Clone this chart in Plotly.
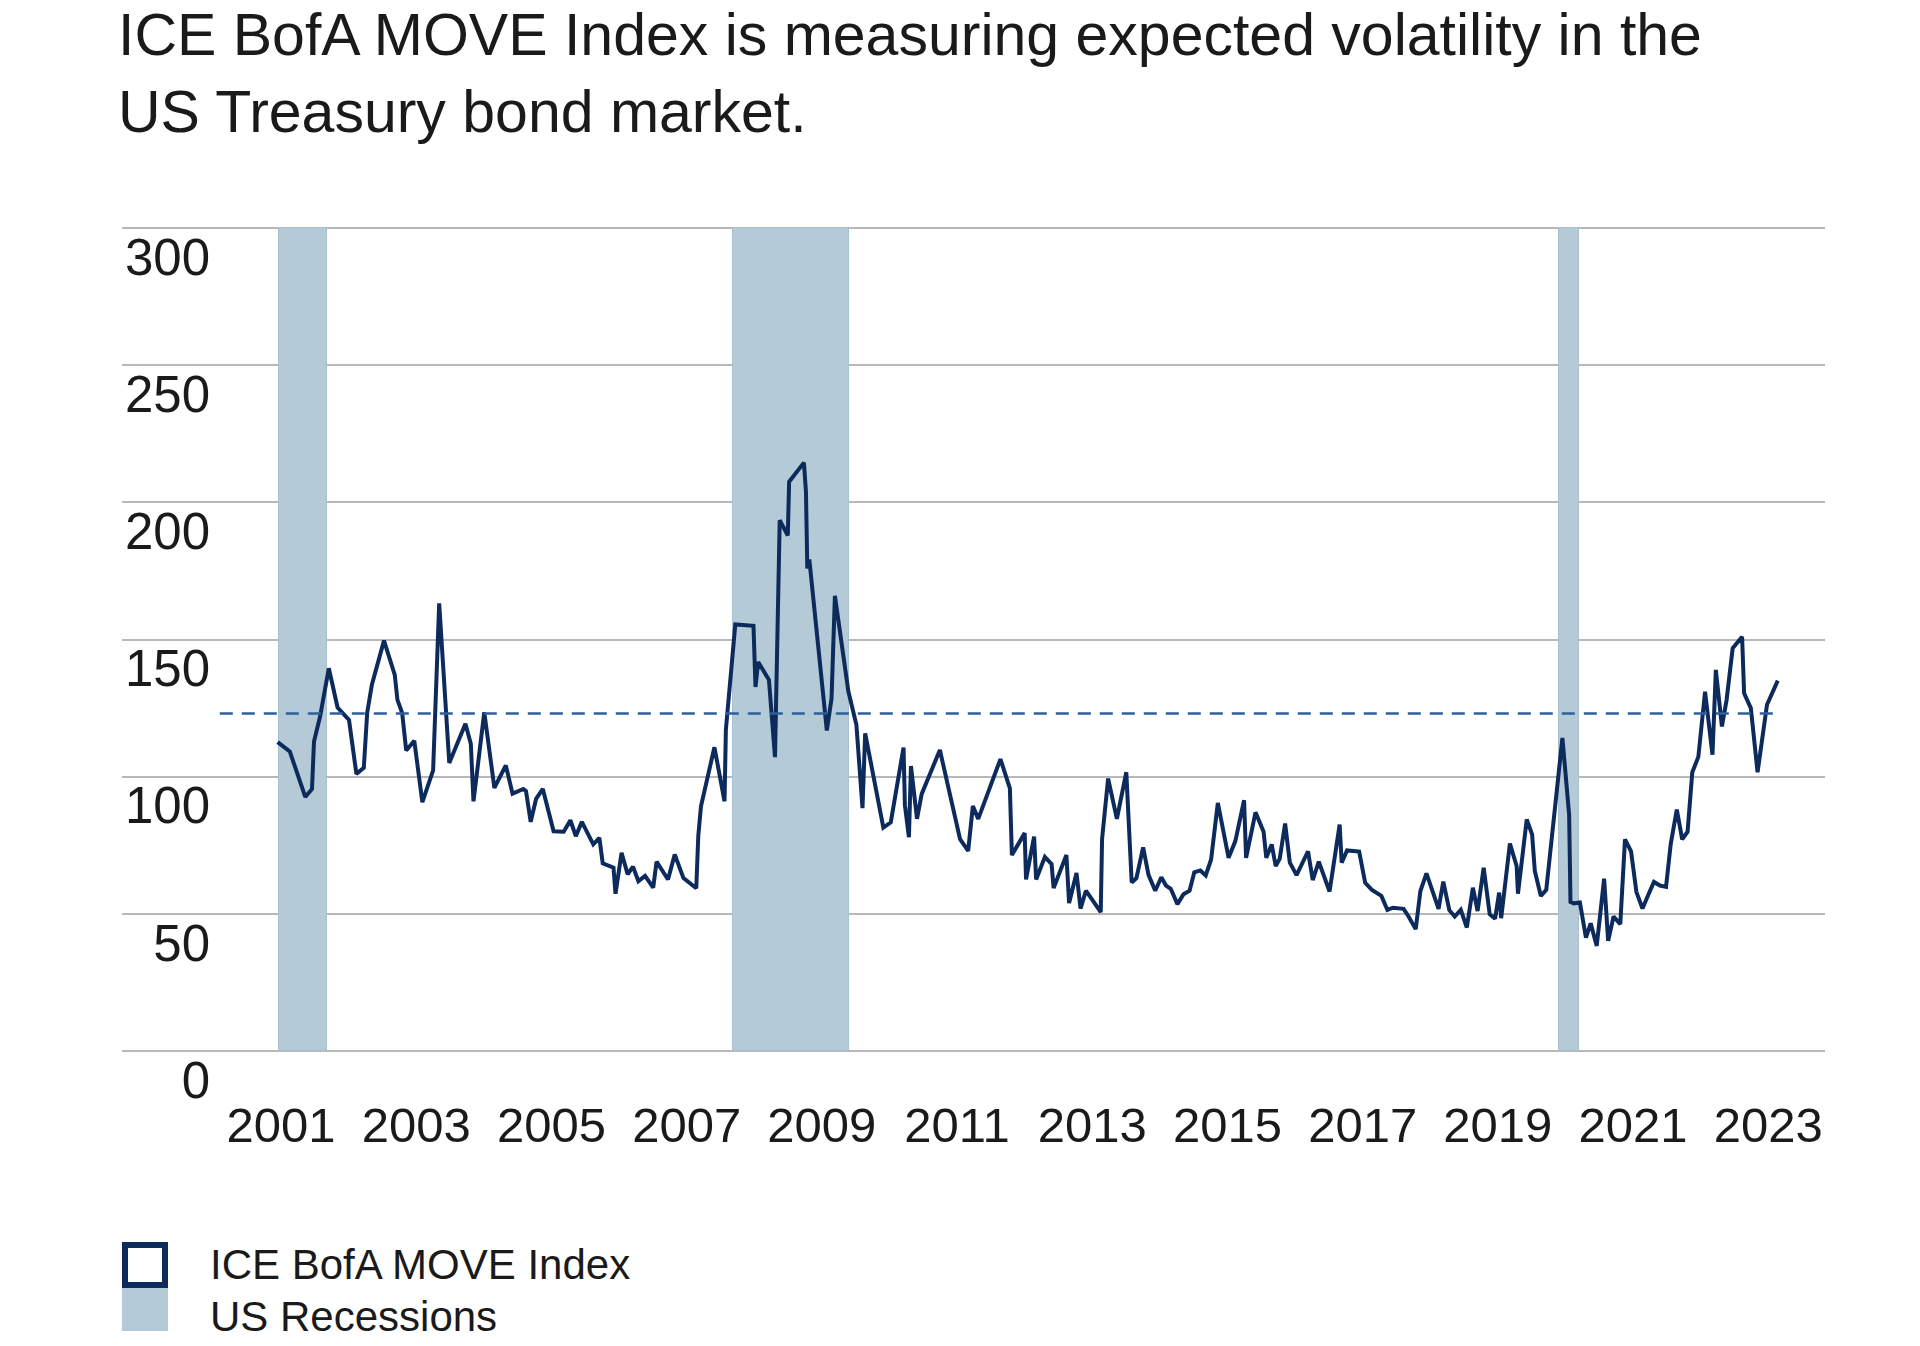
import plotly.graph_objects as go

# ---------------- data ----------------
# decimal-year time stamps of the ICE BofA MOVE Index series
MOVE_DATES = [
    2001.15, 2001.33, 2001.56, 2001.66, 2001.69, 2001.78, 2001.91, 2002.04, 2002.21, 2002.32,
    2002.43, 2002.48, 2002.55, 2002.73, 2002.89, 2002.93, 2003.00, 2003.06, 2003.18, 2003.30,
    2003.46, 2003.55, 2003.70, 2003.94, 2004.02, 2004.06, 2004.22, 2004.37, 2004.54, 2004.64,
    2004.80, 2004.84, 2004.91, 2004.99, 2005.09, 2005.25, 2005.40, 2005.50, 2005.58, 2005.67,
    2005.84, 2005.93, 2005.98, 2006.14, 2006.17, 2006.26, 2006.35, 2006.43, 2006.51, 2006.61,
    2006.73, 2006.78, 2006.95, 2007.05, 2007.18, 2007.37, 2007.40, 2007.44, 2007.64, 2007.79,
    2007.81, 2007.95, 2008.22, 2008.25, 2008.29, 2008.45, 2008.54, 2008.61, 2008.73, 2008.75,
    2008.97, 2009.00, 2009.02, 2009.05, 2009.31, 2009.38, 2009.43, 2009.63, 2009.75, 2009.84,
    2009.88, 2010.15, 2010.26, 2010.45, 2010.47, 2010.53, 2010.56, 2010.65, 2010.72, 2010.99,
    2011.29, 2011.41, 2011.48, 2011.56, 2011.89, 2012.03, 2012.06, 2012.25, 2012.27, 2012.39,
    2012.42, 2012.55, 2012.65, 2012.68, 2012.87, 2012.91, 2013.02, 2013.08, 2013.16, 2013.38,
    2013.40, 2013.49, 2013.62, 2013.76, 2013.84, 2013.91, 2014.01, 2014.09, 2014.19, 2014.28,
    2014.35, 2014.42, 2014.52, 2014.61, 2014.70, 2014.77, 2014.86, 2014.94, 2015.02, 2015.12,
    2015.28, 2015.38, 2015.51, 2015.54, 2015.68, 2015.80, 2015.84, 2015.92, 2015.98, 2016.04,
    2016.12, 2016.19, 2016.29, 2016.46, 2016.53, 2016.62, 2016.78, 2016.93, 2016.96, 2017.04,
    2017.22, 2017.31, 2017.41, 2017.55, 2017.64, 2017.72, 2017.88, 2017.95, 2018.06, 2018.13,
    2018.22, 2018.40, 2018.47, 2018.56, 2018.64, 2018.73, 2018.82, 2018.91, 2018.98, 2019.07,
    2019.16, 2019.24, 2019.30, 2019.33, 2019.46, 2019.56, 2019.58, 2019.71, 2019.79, 2019.83,
    2019.92, 2020.00, 2020.24, 2020.34, 2020.36, 2020.41, 2020.50, 2020.59, 2020.66, 2020.75,
    2020.86, 2020.92, 2021.00, 2021.10, 2021.17, 2021.26, 2021.34, 2021.43, 2021.52, 2021.60,
    2021.69, 2021.78, 2021.85, 2021.94, 2022.02, 2022.10, 2022.17, 2022.26, 2022.36, 2022.47,
    2022.52, 2022.61, 2022.68, 2022.77, 2022.91, 2022.94, 2023.04, 2023.14, 2023.28, 2023.44,
]
MOVE_VALUES = [
    112.6, 109.2, 92.6, 95.5, 112.8, 121.9, 139.5, 125.2, 120.7, 101.0,
    103.2, 123.2, 133.5, 149.6, 137.1, 128.0, 123.2, 109.5, 113.1, 90.7,
    102.3, 163.2, 105.0, 119.3, 112.0, 91.0, 123.5, 95.9, 104.1, 93.8,
    95.5, 94.7, 83.5, 91.9, 95.5, 80.1, 79.9, 84.1, 78.3, 83.5,
    75.3, 77.7, 68.4, 66.8, 57.3, 72.2, 64.4, 67.2, 61.9, 63.8,
    59.5, 69.0, 62.5, 71.6, 63.0, 59.3, 78.3, 89.2, 110.7, 91.0,
    117.1, 155.5, 155.0, 132.7, 141.8, 135.3, 107.1, 193.5, 187.9, 207.5,
    214.5, 203.8, 175.9, 179.2, 116.8, 128.5, 165.9, 131.1, 118.8, 88.5,
    115.8, 81.4, 83.3, 110.6, 89.6, 77.9, 103.9, 84.6, 93.7, 109.7,
    77.2, 72.9, 89.3, 84.6, 106.4, 95.7, 71.4, 79.4, 62.5, 78.1,
    62.5, 70.7, 68.1, 59.4, 71.4, 53.9, 64.9, 51.9, 58.4, 50.6,
    77.2, 99.3, 84.6, 101.6, 61.4, 63.0, 74.2, 64.2, 58.4, 63.3,
    60.3, 59.1, 53.5, 57.1, 58.4, 65.1, 65.8, 64.0, 69.8, 90.4,
    70.4, 76.5, 91.4, 70.4, 87.0, 79.9, 70.4, 75.3, 67.4, 70.1,
    82.9, 68.6, 64.1, 72.8, 62.3, 69.0, 58.1, 82.5, 68.6, 73.1,
    72.7, 61.3, 58.7, 56.5, 51.4, 52.2, 51.8, 49.2, 44.4, 58.3,
    64.7, 51.8, 61.7, 51.3, 49.0, 51.4, 45.0, 59.5, 51.0, 66.8,
    49.8, 48.2, 57.7, 48.4, 75.6, 67.4, 57.3, 84.4, 78.9, 65.6,
    56.5, 58.7, 114.1, 86.2, 54.3, 53.8, 54.1, 41.3, 46.5, 38.3,
    62.8, 40.1, 49.0, 46.2, 77.1, 72.8, 57.9, 51.9, 57.1, 61.6,
    60.3, 59.8, 75.5, 88.0, 77.1, 79.9, 101.6, 107.2, 131.0, 108.0,
    138.9, 118.3, 128.0, 146.8, 151.0, 130.4, 125.0, 101.6, 126.2, 135.0,
]

# US recessions (start, end) in decimal years; shading spans the full value axis
RECESSION_STARTS = [2001.17, 2007.92, 2020.19]
RECESSION_ENDS = [2001.88, 2009.64, 2020.49]
RECESSION_HEIGHT = 300

# dashed reference level
REFERENCE_LEVEL = 123.0
REFERENCE_START = 2000.29
REFERENCE_END = 2023.44

Y_TICKS = [0, 50, 100, 150, 200, 250, 300]
X_TICK_YEARS = [2001, 2003, 2005, 2007, 2009, 2011, 2013, 2015, 2017, 2019, 2021, 2023]

TITLE = "ICE BofA MOVE Index is measuring expected volatility in the<br>US Treasury bond market."
LEGEND_LABELS = ["ICE BofA MOVE Index", "US Recessions"]

# ---------------- styling ----------------
W, H = 1920, 1346
ML, MR, MT, MB = 122, 95, 227, 294
FONT = "Liberation Sans"
TEXT_COLOR = "#1a1a1a"
NAVY = "#0c2a5c"
DASH_BLUE = "#2f5f9c"
REC_FILL = "#b4cbd7"
REC_EDGE = "#a7c1ce"
GRID = "#b8b8b8"
LABEL_FIRST = 2001.20   # x position of the first year label
LABEL_STEP = 2.009      # spacing of year labels (axis units)

plot_w = W - ML - MR
plot_h = H - MT - MB


def px_to_paper_x(px):
    return (px - ML) / plot_w


def px_to_paper_y(py):
    return (H - MB - py) / plot_h


fig = go.Figure()

# recession shading
fig.add_trace(go.Bar(
    x=[(s + e) / 2 for s, e in zip(RECESSION_STARTS, RECESSION_ENDS)],
    y=[RECESSION_HEIGHT] * len(RECESSION_STARTS),
    width=[e - s for s, e in zip(RECESSION_STARTS, RECESSION_ENDS)],
    base=0,
    marker=dict(color=REC_FILL, line=dict(color=REC_EDGE, width=1)),
    name=LEGEND_LABELS[1], showlegend=False, hoverinfo="skip",
))

fig.add_trace(go.Scatter(
    x=MOVE_DATES, y=MOVE_VALUES, mode="lines",
    line=dict(color=NAVY, width=4),
    name=LEGEND_LABELS[0], showlegend=False, hoverinfo="x+y",
))

fig.add_trace(go.Scatter(
    x=[REFERENCE_START, REFERENCE_END], y=[REFERENCE_LEVEL, REFERENCE_LEVEL],
    mode="lines", line=dict(color=DASH_BLUE, width=2.6, dash="13px,9px"),
    showlegend=False, hoverinfo="skip", yaxis="y2",
))

shapes = [
    # legend swatches
    dict(type="rect", xref="paper", yref="paper",
         x0=px_to_paper_x(125), x1=px_to_paper_x(165),
         y0=px_to_paper_y(1245), y1=px_to_paper_y(1285),
         fillcolor="white", line=dict(color=NAVY, width=6), layer="above"),
    dict(type="rect", xref="paper", yref="paper",
         x0=px_to_paper_x(122), x1=px_to_paper_x(168),
         y0=px_to_paper_y(1288), y1=px_to_paper_y(1331),
         fillcolor=REC_FILL, line=dict(width=0), layer="above"),
]

annotations = [
    dict(text=LEGEND_LABELS[0], xref="paper", yref="paper",
         x=px_to_paper_x(208), y=px_to_paper_y(1264), xanchor="left", yanchor="middle",
         showarrow=False, font=dict(family=FONT, size=42, color=TEXT_COLOR)),
    dict(text=LEGEND_LABELS[1], xref="paper", yref="paper",
         x=px_to_paper_x(208), y=px_to_paper_y(1316), xanchor="left", yanchor="middle",
         showarrow=False, font=dict(family=FONT, size=42, color=TEXT_COLOR)),
]

fig.update_layout(
    width=W, height=H,
    margin=dict(l=ML, r=MR, t=MT, b=MB, pad=0),
    paper_bgcolor="white", plot_bgcolor="white",
    showlegend=False,
    title=dict(
        text=TITLE, xref="container", yref="container",
        x=118 / W, xanchor="left", y=1 - 55 / H, yanchor="top",
        font=dict(family=FONT, size=59, color=TEXT_COLOR),
    ),
    xaxis=dict(
        range=[1998.837, 2024.142], showgrid=False, zeroline=False, showline=False,
        tickmode="array", tickvals=[LABEL_FIRST + i * LABEL_STEP for i in range(len(X_TICK_YEARS))],
        ticktext=[str(y) for y in X_TICK_YEARS], ticks="",
        tickfont=dict(family=FONT, size=49, color=TEXT_COLOR),
        ticklabelstandoff=40,
    ),
    yaxis=dict(
        range=[-0.4, 300.4], tickmode="array", tickvals=Y_TICKS, showticklabels=False,
        showgrid=True, gridcolor=GRID, gridwidth=2.2, zeroline=False, showline=False, ticks="",
    ),
    yaxis2=dict(
        range=[-0.4, 300.4], overlaying="y", anchor="free", side="left",
        position=px_to_paper_x(210),
        tickmode="array", tickvals=Y_TICKS, ticktext=[str(v) for v in Y_TICKS],
        showgrid=False, zeroline=False, showline=False, ticks="",
        tickfont=dict(family=FONT, size=51, color=TEXT_COLOR),
        ticklabelshift=29,
    ),
    bargap=0,
    shapes=shapes,
    annotations=annotations,
)

fig.write_html("out.html", config={"displayModeBar": False},
               post_script="document.body.style.margin='0';")
